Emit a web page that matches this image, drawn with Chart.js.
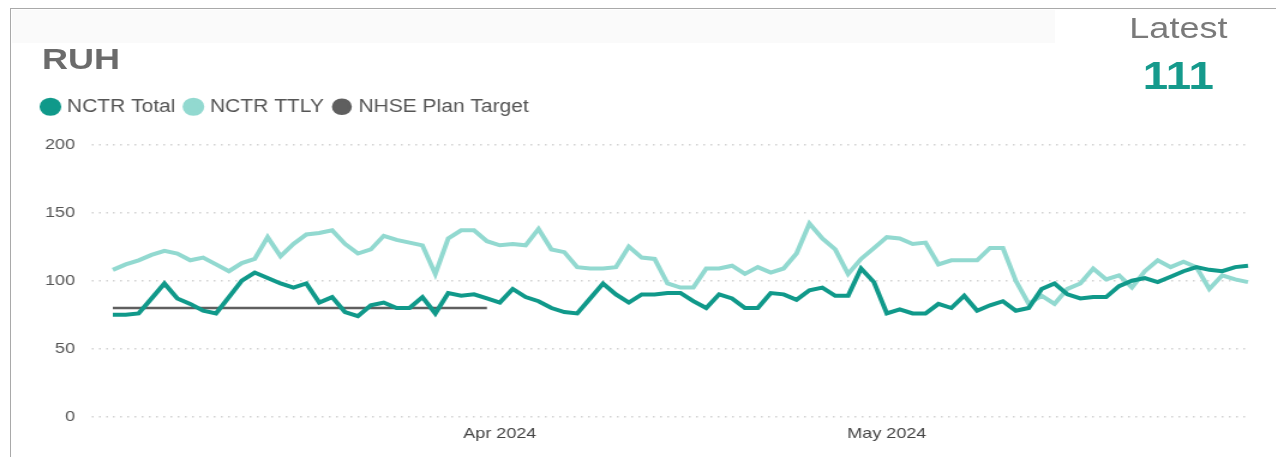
<!DOCTYPE html>
<html>
<head>
<meta charset="utf-8">
<title>RUH NCTR</title>
<script src="https://cdn.jsdelivr.net/npm/chart.js@4.4.1/dist/chart.umd.min.js"></script>
<style>
  html, body { margin: 0; padding: 0; background: #fff; }
  body { width: 1276px; height: 457px; position: relative; overflow: hidden; font-family: "Liberation Sans", Arial, sans-serif; }
  .frame-top { position: absolute; left: 10px; top: 8px; right: 0; height: 1px; background: #a9a9a9; }
  .frame-left { position: absolute; left: 10px; top: 8px; bottom: 0; width: 1px; background: #a9a9a9; }
  .band { position: absolute; left: 12px; top: 10px; width: 1043px; height: 33px; background: #fafafa; }
  /* the screenshot is stretched sideways, so draw narrower and stretch */
  #stage { position: absolute; left: 0; top: 0; width: 1063px; height: 457px; transform: scaleX(1.2); transform-origin: 0 0; }
  #chartBox { position: absolute; left: 0; top: 0; width: 1063px; height: 457px; }
  .title { position: absolute; left: 35px; top: 44px; font-size: 30px; line-height: 1; font-weight: bold; color: #6b6b6b; }
  .latest { position: absolute; left: 922px; top: 13px; width: 120px; text-align: center; font-size: 30px; line-height: 1; color: #7a7a7a; }
  .latest-value { position: absolute; left: 922px; top: 57px; width: 120px; text-align: center; font-size: 38px; line-height: 1; font-weight: bold; color: #159a8c; }
</style>
</head>
<body>
<div class="frame-top"></div>
<div class="frame-left"></div>
<div class="band"></div>
<div id="stage">
  <div id="chartBox"><canvas id="nctrChart"></canvas></div>
  <div class="title">RUH</div>
  <div class="latest">Latest</div>
  <div class="latest-value" id="latestValue"></div>
</div>
<script>
const dates = [
    '2024-03-02', '2024-03-03', '2024-03-04', '2024-03-05', '2024-03-06', '2024-03-07', '2024-03-08', '2024-03-09', '2024-03-10', '2024-03-11',
    '2024-03-12', '2024-03-13', '2024-03-14', '2024-03-15', '2024-03-16', '2024-03-17', '2024-03-18', '2024-03-19', '2024-03-20', '2024-03-21',
    '2024-03-22', '2024-03-23', '2024-03-24', '2024-03-25', '2024-03-26', '2024-03-27', '2024-03-28', '2024-03-29', '2024-03-30', '2024-03-31',
    '2024-04-01', '2024-04-02', '2024-04-03', '2024-04-04', '2024-04-05', '2024-04-06', '2024-04-07', '2024-04-08', '2024-04-09', '2024-04-10',
    '2024-04-11', '2024-04-12', '2024-04-13', '2024-04-14', '2024-04-15', '2024-04-16', '2024-04-17', '2024-04-18', '2024-04-19', '2024-04-20',
    '2024-04-21', '2024-04-22', '2024-04-23', '2024-04-24', '2024-04-25', '2024-04-26', '2024-04-27', '2024-04-28', '2024-04-29', '2024-04-30',
    '2024-05-01', '2024-05-02', '2024-05-03', '2024-05-04', '2024-05-05', '2024-05-06', '2024-05-07', '2024-05-08', '2024-05-09', '2024-05-10',
    '2024-05-11', '2024-05-12', '2024-05-13', '2024-05-14', '2024-05-15', '2024-05-16', '2024-05-17', '2024-05-18', '2024-05-19', '2024-05-20',
    '2024-05-21', '2024-05-22', '2024-05-23', '2024-05-24', '2024-05-25', '2024-05-26', '2024-05-27', '2024-05-28', '2024-05-29'
];

// NCTR Total (dark teal)
const nctrTotal = [
    75, 75, 76, 87, 98, 87, 83, 78, 76, 88,
    100, 106, 102, 98, 95, 98, 84, 88, 77, 74,
    82, 84, 80, 80, 88, 76, 91, 89, 90, 87,
    84, 94, 88, 85, 80, 77, 76, 87, 98, 90,
    84, 90, 90, 91, 91, 85, 80, 90, 87, 80,
    80, 91, 90, 86, 93, 95, 89, 89, 109, 99,
    76, 79, 76, 76, 83, 80, 89, 78, 82, 85,
    78, 80, 94, 98, 90, 87, 88, 88, 96, 100,
    102, 99, 103, 107, 110, 108, 107, 110, 111
];

// NCTR TTLY (same time last year, light teal)
const nctrTtly = [
    108, 112, 115, 119, 122, 120, 115, 117, 112, 107,
    113, 116, 132, 118, 127, 134, 135, 137, 127, 120,
    123, 133, 130, 128, 126, 105, 131, 137, 137, 129,
    126, 127, 126, 138, 123, 121, 110, 109, 109, 110,
    125, 117, 116, 98, 95, 95, 109, 109, 111, 105,
    110, 106, 109, 120, 142, 131, 123, 105, 116, 124,
    132, 131, 127, 128, 112, 115, 115, 115, 124, 124,
    100, 83, 89, 83, 94, 98, 109, 101, 104, 95,
    107, 115, 110, 114, 110, 94, 104, 101, 99
];

// NHSE plan target only runs through March
const nhseTarget = [
    80, 80, 80, 80, 80, 80, 80, 80, 80, 80,
    80, 80, 80, 80, 80, 80, 80, 80, 80, 80,
    80, 80, 80, 80, 80, 80, 80, 80, 80, 80
];

const tickDates = ['2024-04-01', '2024-05-01'];
const tickLabels = ['Apr 2024', 'May 2024'];
const yTicks = [0, 50, 100, 150, 200];

document.getElementById('latestValue').textContent = nctrTotal[nctrTotal.length - 1];

// push the plot down a bit below the legend
const legendGap = {
    id: 'legendGap',
    beforeInit(chart) {
        const origFit = chart.legend.fit;
        chart.legend.fit = function () {
            origFit.bind(chart.legend)();
            this.height += 19;
        };
    }
};

const nctrChart = new Chart(document.getElementById('nctrChart').getContext('2d'), {
    type: 'line',
    data: {
        labels: dates,
        datasets: [{
            label: 'NCTR Total',
            data: nctrTotal,
            borderColor: '#10998a',
            backgroundColor: '#10998a',
            borderWidth: 4,
            pointRadius: 0,
            tension: 0
        }, {
            label: 'NCTR TTLY',
            data: nctrTtly,
            borderColor: '#92d9d0',
            backgroundColor: '#92d9d0',
            borderWidth: 4,
            pointRadius: 0,
            tension: 0
        }, {
            label: 'NHSE Plan Target',
            data: nhseTarget,
            borderColor: '#5f5f5f',
            backgroundColor: '#5f5f5f',
            borderWidth: 2.5,
            pointRadius: 0,
            tension: 0
        }]
    },
    options: {
        responsive: true,
        maintainAspectRatio: false,
        animation: false,
        layout: {
            padding: { top: 88, left: 27, right: 23, bottom: 0 }
        },
        plugins: {
            legend: {
                position: 'top',
                align: 'start',
                labels: {
                    usePointStyle: true,
                    pointStyle: 'circle',
                    boxWidth: 10,
                    boxHeight: 10,
                    padding: 10,
                    color: '#555',
                    font: { family: '"Liberation Sans", Arial, sans-serif', size: 17.5 }
                }
            },
            tooltip: { enabled: false }
        },
        scales: {
            x: {
                grid: { display: false, drawTicks: false },
                border: { display: false },
                ticks: {
                    autoSkip: false,
                    maxRotation: 0,
                    padding: 8,
                    color: '#444',
                    font: { family: '"Liberation Sans", Arial, sans-serif', size: 15 },
                    callback: function (val, idx) {
                        const k = tickDates.indexOf(dates[idx]);
                        return k >= 0 ? tickLabels[k] : '';
                    }
                },
                afterFit: function (scale) {
                    scale.height = 40;
                }
            },
            y: {
                min: 0,
                max: 200,
                afterBuildTicks: function (scale) {
                    scale.ticks = yTicks.map(v => ({ value: v }));
                },
                grid: {
                    color: '#d2d2d2',
                    lineWidth: 1.5,
                    tickLength: 17.5,
                    tickColor: '#d2d2d2',
                    tickBorderDash: [1.5, 4.5]
                },
                border: { display: false, dash: [1.5, 4.5] },
                ticks: {
                    padding: 14,
                    color: '#555',
                    font: { family: '"Liberation Sans", Arial, sans-serif', size: 15 }
                },
                afterFit: function (scale) {
                    scale.width = 67;
                }
            }
        }
    },
    plugins: [legendGap]
});
</script>
</body>
</html>
